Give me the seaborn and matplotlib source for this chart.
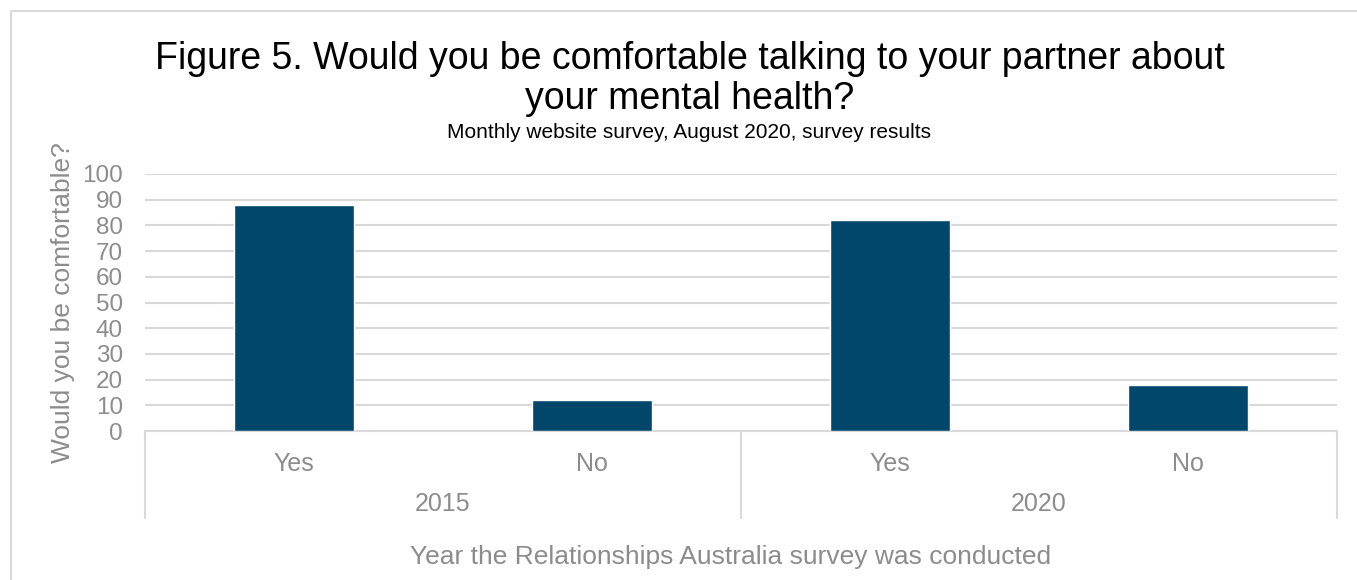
import matplotlib
matplotlib.use("Agg")
import matplotlib.pyplot as plt
import matplotlib.transforms as mtransforms
from matplotlib.patches import Rectangle
import seaborn as sns
import pandas as pd

# Survey data
years = ["2015", "2015", "2020", "2020"]
answers = ["Yes", "No", "Yes", "No"]
percent = [88, 12, 82, 18]

title = "Figure 5. Would you be comfortable talking to your partner about\nyour mental health?"
subtitle = "Monthly website survey, August 2020, survey results"
y_label = "Would you be comfortable?"
x_label = "Year the Relationships Australia survey was conducted"
y_ticks = list(range(0, 101, 10))

BAR = "#00476b"
GRID = "#d9d9d9"
TXT = "#8c8c8c"

sns.set_theme(style="white")
plt.rcParams["font.family"] = ["Liberation Sans", "DejaVu Sans"]

df = pd.DataFrame({"year": years, "answer": answers, "percent": percent})
df["key"] = df["year"] + " " + df["answer"]
order = list(df["key"])

fig = plt.figure(figsize=(13.57, 5.8), dpi=100)
ax = fig.add_axes([145 / 1357, 1 - 431 / 580, (1337 - 145) / 1357, (431 - 174) / 580])

sns.barplot(data=df, x="key", y="percent", order=order, color=BAR,
            width=0.4, saturation=1, ax=ax, zorder=3)

ax.set_ylim(0, 100)
ax.set_xlim(-0.5, len(order) - 0.5)
ax.set_yticks(y_ticks)
ax.set_yticklabels([str(t) for t in y_ticks])
ax.yaxis.grid(True, color=GRID, linewidth=1.5, zorder=0)
ax.xaxis.grid(False)
for s in ["top", "right", "left"]:
    ax.spines[s].set_visible(False)
ax.spines["bottom"].set_color(GRID)
ax.spines["bottom"].set_linewidth(1.5)

ax.set_xticks(range(len(order)))
ax.set_xticklabels(answers)
ax.tick_params(axis="x", length=0, pad=15, labelsize=18, labelcolor=TXT)
ax.tick_params(axis="y", length=0, pad=16, labelsize=17.5, labelcolor=TXT)

ax.set_xlabel("")
ax.set_ylabel(y_label, fontsize=19, color=TXT)
ax.yaxis.set_label_coords((75 - 145) / (1337 - 145), (431 - 303) / (431 - 174))

# Two-level category axis: group separators and year labels
trans = mtransforms.blended_transform_factory(ax.transData, ax.transAxes)
depth = -(518 - 431) / (431 - 174)
year_groups = list(dict.fromkeys(years))
bounds = [-0.5]
for yr in year_groups:
    idx = [i for i, y in enumerate(years) if y == yr]
    bounds.append(max(idx) + 0.5)
    ax.text(sum(idx) / len(idx), -(504 - 431) / (431 - 174), yr, transform=trans,
            ha="center", va="center", fontsize=18, color=TXT)
for b in bounds:
    ax.plot([b, b], [0, depth], transform=trans, color=GRID, linewidth=1.5,
            clip_on=False)

fig.text(731 / 1357, 1 - 557 / 580, x_label, ha="center", va="center",
         fontsize=19, color=TXT)

fig.text(690 / 1357, 1 - 79 / 580, title, ha="center", va="center",
         fontsize=27, color="black", linespacing=1.15)
fig.text(689 / 1357, 1 - 132 / 580, subtitle, ha="center", va="center",
         fontsize=15, color="black")

# Chart area border
fig.patches.append(Rectangle((11 / 1357, -0.01), 1.0, 1 - 11 / 580 + 0.01,
                             transform=fig.transFigure, fill=False,
                             edgecolor=GRID, linewidth=1.5, zorder=-1))

fig.savefig("out.png", dpi=100)
